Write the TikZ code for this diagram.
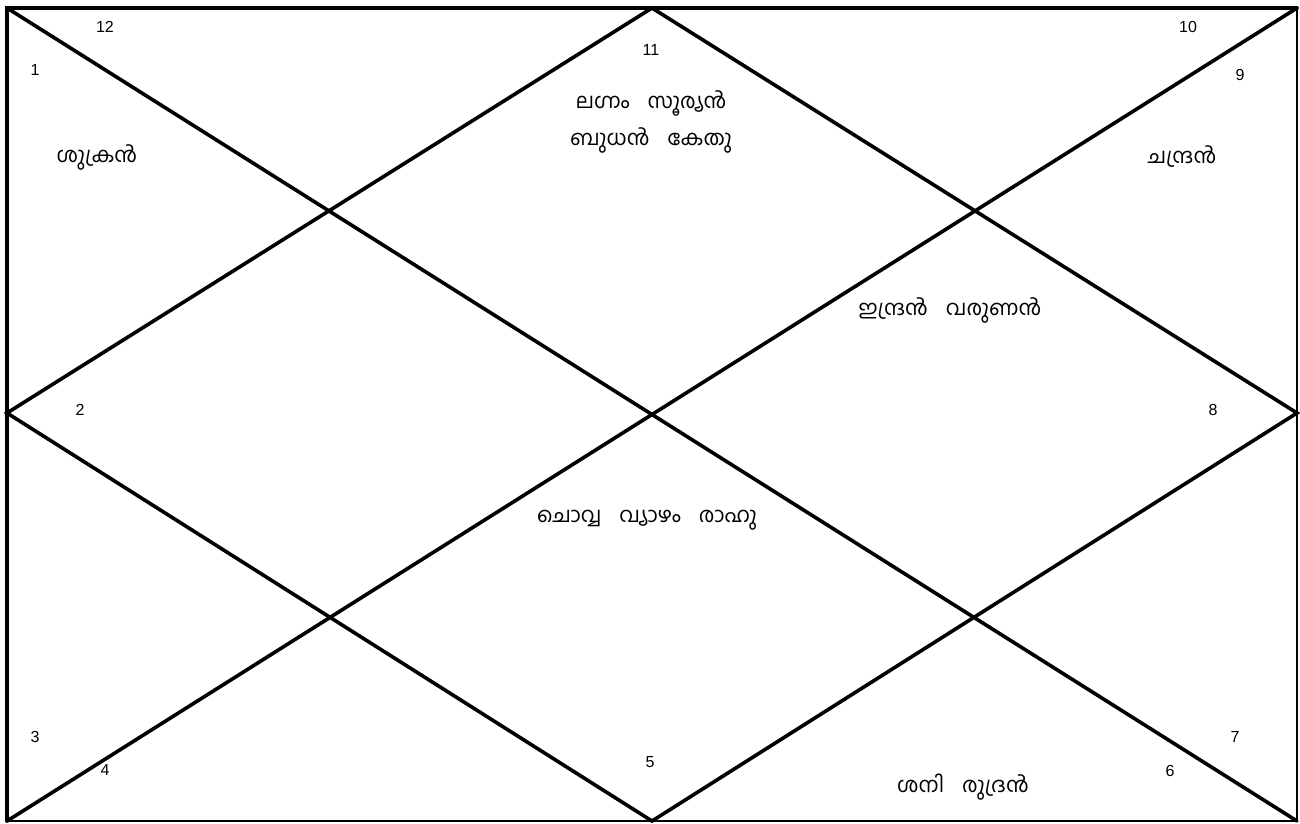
\documentclass[tikz,border=0pt]{standalone}
\usepackage{fontspec}
\setmainfont{Liberation Sans}
\newfontfamily\mlfont[Script=Malayalam,WordSpace={3.5}]{Hind Kochi}
\begin{document}
\begin{tikzpicture}[x=1pt,y=-1pt,
  num/.style={font=\fontsize{16}{18}\selectfont, inner sep=0pt},
  ml/.style={font=\mlfont\fontsize{21}{24}\selectfont, inner sep=0pt, align=center},
  thick line/.style={line width=3.6pt, line cap=round},
  thin line/.style={line width=2pt}]
\useasboundingbox[fill=white] (0,0) rectangle (1300,823);
\coordinate (tl) at (7,8);
\coordinate (tr) at (1297,8);
\coordinate (bl) at (7,821);
\coordinate (br) at (1297,821);
\coordinate (tm) at (652,8);
\coordinate (lm) at (7,413);
\coordinate (bm) at (652,821);
\coordinate (rm) at (1297,413);
% borders
\draw[thin line] (tr) -- (br) -- (bl);
\draw[thick line] (bl) -- (tl) -- (tr);
% diagonals
\draw[thick line] (tl) -- (br);
\draw[thick line] (bl) -- (tr);
% diamond
\draw[thick line] (tm) -- (lm) -- (bm) -- (rm) -- cycle;
% numbers
\node[num] (n12) at (105,27) {12};
\node[num] (n1) at (35,70) {1};
\node[num] (n11) at (651,50) {11};
\node[num] (n10) at (1188,27) {10};
\node[num] (n9) at (1240,75) {9};
\node[num] (n2) at (80,410) {2};
\node[num] (n8) at (1213,410) {8};
\node[num] (n3) at (35,737) {3};
\node[num] (n4) at (105,770) {4};
\node[num] (n5) at (650,762) {5};
\node[num] (n6) at (1170,771) {6};
\node[num] (n7) at (1235,737) {7};
% planets
\node[ml] (h1) at (97,157) {ശുക്രൻ};
\node[ml] (h11a) at (651,103) {ലഗ്നം സൂര്യൻ};
\node[ml] (h11b) at (651,140) {ബുധൻ കേതു};
\node[ml] (h9) at (1182,157) {ചന്ദ്രൻ};
\node[ml] (h8) at (950,310) {ഇന്ദ്രൻ വരുണൻ};
\node[ml] (hc) at (647,520) {ചൊവ്വ വ്യാഴം രാഹു};
\node[ml] (h6) at (963,787) {ശനി രുദ്രൻ};
\end{tikzpicture}
\end{document}
